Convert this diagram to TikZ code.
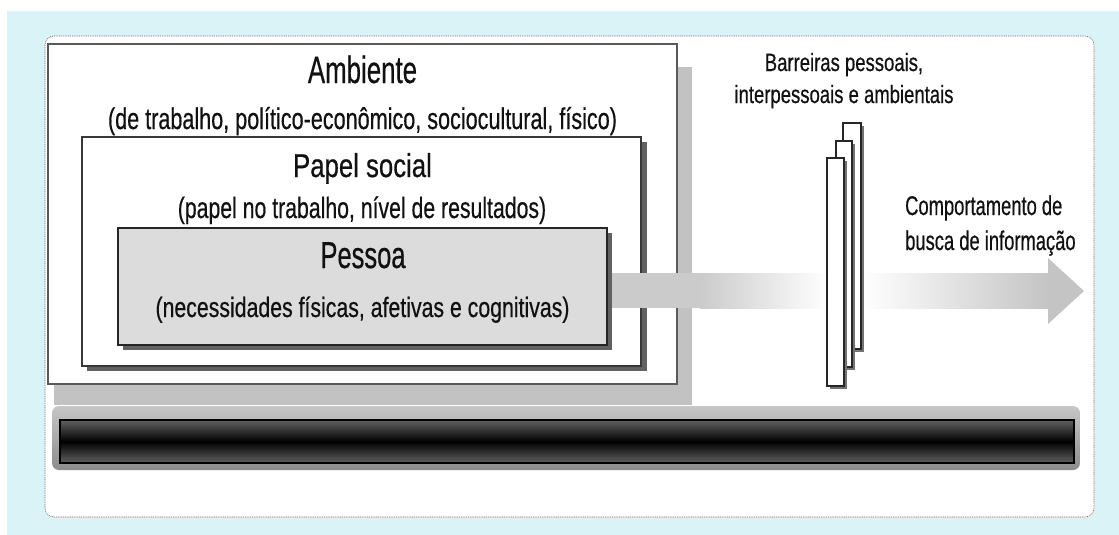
\documentclass[tikz,border=0pt]{standalone}
\usepackage{fontspec}
\setmainfont{Liberation Sans}
\newfontfamily\heavy[FakeBold=0.6]{Liberation Sans}
\usepackage{graphicx}
\definecolor{bgblue}{RGB}{218,243,247}
\definecolor{txt}{RGB}{17,17,17}
\definecolor{ambshadow}{RGB}{194,194,194}
\definecolor{bandgray}{RGB}{203,203,203}
\definecolor{headgray}{RGB}{196,196,196}
\definecolor{pessoafill}{RGB}{220,220,220}
\newcommand\mytxt[3]{\scalebox{#1}[1]{\fontsize{#2}{#2}\heavy #3}}
\tikzset{
  lbl/.style={anchor=base, inner sep=0pt, text=txt},
  boxshadow/.style={fill=black!62, draw=none},
  barshadow/.style={fill=black!55, draw=none},
  barrier/.style={fill=white, draw=black!85, line width=1.2pt},
}
\begin{document}
\begin{tikzpicture}[x=1pt,y=-1pt]
\useasboundingbox (0,0) rectangle (1119,535);
% background
\fill[white] (0,0) rectangle (1119,535);
\fill[bgblue] (7,11) rectangle (1119,535);
% panel
\fill[black!8] (47,39) [rounded corners=9pt] rectangle (1096,519);
\draw[fill=white, draw=black!55, line width=0.6pt, dash pattern=on 1pt off 0.8pt, rounded corners=9pt] (45,36) rectangle (1094,517);
% Ambiente box
\fill[ambshadow] (54,67) rectangle (692,405);
\draw[fill=white, draw=black!65, line width=1.6pt] (48,44) rectangle (677,384);
% Papel social box
\fill[boxshadow] (87,142) rectangle (647,371);
\draw[fill=white, draw=black!78, line width=1.8pt] (82,137) rectangle (641,366);
% Pessoa box
\fill[boxshadow] (123,233) rectangle (612,350);
\draw[fill=pessoafill, draw=black!85, line width=1.8pt] (118,228) rectangle (607,345);
% band (arrow)
\fill[bandgray] (612,273) rectangle (701,308);
\shade[left color=bandgray, right color=white] (700,273) rectangle (828,308);
\shade[left color=white, right color=headgray] (862,273) rectangle (1049,308);
\fill[headgray] (1048,258) -- (1084,291) -- (1048,324) -- cycle;
% barriers
\fill[barshadow] (846,126) rectangle (864,352);
\draw[barrier] (843,123) rectangle (861,349);
\fill[barshadow] (839,144) rectangle (855,370);
\draw[barrier] (836,141) rectangle (852,367);
\fill[barshadow] (830,161) rectangle (847,389);
\draw[barrier] (827,158) rectangle (844,386);
% bottom bar
\shade[top color=black!22, bottom color=black!45, rounded corners=7pt] (52,406) rectangle (1080,470);
\shade[top color=black!62, bottom color=black!62, middle color=black, draw=black, line width=1.4pt] (60,420) rectangle (1074,463);
% texts
\node[lbl] (amb) at (362.5,83) {\mytxt{0.68}{38}{Ambiente}};
\node[lbl] (ambsub) at (362.5,129) {\mytxt{0.72}{30}{(de trabalho, político-econômico, sociocultural, físico)}};
\node[lbl] (pap) at (362.5,177) {\mytxt{0.78}{33}{Papel social}};
\node[lbl] (papsub) at (362,218) {\mytxt{0.72}{29.5}{(papel no trabalho, nível de resultados)}};
\node[lbl] (pes) at (363,268) {\mytxt{0.68}{37.5}{Pessoa}};
\node[lbl] (pessub) at (362.5,317) {\mytxt{0.76}{28}{(necessidades físicas, afetivas e cognitivas)}};
\node[lbl] (bar1) at (844,71) {\mytxt{0.74}{25}{Barreiras pessoais,}};
\node[lbl] (bar2) at (844,103) {\mytxt{0.74}{25}{interpessoais e ambientais}};
\node[lbl, anchor=base west] (comp1) at (905,215) {\mytxt{0.68}{27}{Comportamento de}};
\node[lbl, anchor=base west] (comp2) at (905,250) {\mytxt{0.68}{27}{busca de informação}};
\end{tikzpicture}
\end{document}
